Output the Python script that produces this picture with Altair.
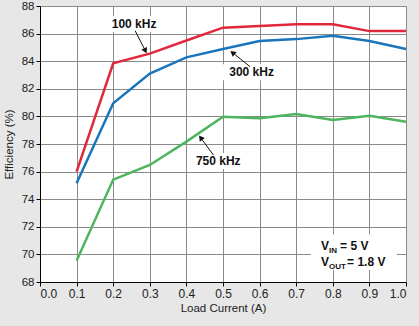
import math
import altair as alt
import pandas as pd

# ---- data ----
load = [0.1, 0.2, 0.3, 0.4, 0.5, 0.6, 0.7, 0.8, 0.9, 1.0]
eff_100 = [76.0, 83.85, 84.55, 85.5, 86.43, 86.55, 86.68, 86.68, 86.18, 86.18]
eff_300 = [75.15, 80.95, 83.1, 84.28, 84.88, 85.46, 85.6, 85.85, 85.46, 84.88]
eff_750 = [69.54, 75.42, 76.48, 78.17, 79.98, 79.86, 80.17, 79.74, 80.05, 79.62]
series_names = ["100 kHz", "300 kHz", "750 kHz"]
series_colors = ["#e0283c", "#1b75bb", "#4db55e"]

x_ticks = [0.0, 0.1, 0.2, 0.3, 0.4, 0.5, 0.6, 0.7, 0.8, 0.9, 1.0]
y_ticks = [68, 70, 72, 74, 76, 78, 80, 82, 84, 86, 88]

# annotation labels (text centre) and arrows (start -> tip)
label_x = [0.257, 0.578, 0.487]
label_y = [86.7, 83.2, 76.77]
arrow_x1 = [0.260, 0.574, 0.474]
arrow_y1 = [86.2, 83.6, 77.2]
arrow_x2 = [0.288, 0.526, 0.439]
arrow_y2 = [84.75, 84.62, 78.45]

# condition note
note_x = 0.768
note_y = [70.3, 69.15]
note_main = ["V", "V"]
note_sub = ["IN", "OUT"]
note_rest = ["= 5 V", "= 1.8 V"]

W, H = 366, 276
X0, X1 = 0.0, 1.0
Y0, Y1 = 68, 88
pxx = W / (X1 - X0)
pxy = H / (Y1 - Y0)

rows = []
for name, vals in zip(series_names, [eff_100, eff_300, eff_750]):
    for l, v in zip(load, vals):
        rows.append({"load": l, "eff": v, "series": name})
df = pd.DataFrame(rows)

xscale = alt.Scale(domain=[X0, X1], nice=False, zero=False)
yscale = alt.Scale(domain=[Y0, Y1], nice=False, zero=False)

FONT = "Liberation Sans"

xaxis = alt.Axis(values=x_ticks, format=".1f", title="Load Current (A)", labelOverlap=False,
                 grid=True, gridColor="#8a8a8a", gridWidth=1, gridOpacity=1,
                 domainColor="#000000", tickColor="#000000", tickSize=4,
                 labelFont=FONT, labelFontSize=12, labelColor="#222222",
                 labelPadding=2, titleFont=FONT, titleFontSize=11.5,
                 titleFontWeight="normal", titleColor="#222222", titlePadding=3)
yaxis = alt.Axis(values=y_ticks, format="d", title="Efficiency (%)", labelOverlap=False,
                 grid=True, gridColor="#8a8a8a", gridWidth=1, gridOpacity=1,
                 domainColor="#000000", tickColor="#000000", tickSize=4,
                 labelFont=FONT, labelFontSize=11.5, labelColor="#222222",
                 labelPadding=2, titleFont=FONT, titleFontSize=11.5,
                 titleFontWeight="normal", titleColor="#222222", titlePadding=7)


def X(field):
    return alt.X(field, scale=xscale, axis=xaxis)


def Y(field):
    return alt.Y(field, scale=yscale, axis=yaxis)


lines = alt.Chart(df).mark_line(strokeWidth=2.5).encode(
    x=X("load:Q"),
    y=Y("eff:Q"),
    color=alt.Color("series:N", scale=alt.Scale(domain=series_names, range=series_colors),
                    legend=None),
)

# annotation table
ann = pd.DataFrame({
    "text": series_names,
    "lx": label_x, "ly": label_y,
    "x1": arrow_x1, "y1": arrow_y1, "x2": arrow_x2, "y2": arrow_y2,
})
box_dx = 30 / pxx
box_dy = 8 / pxy
ann["bx1"] = ann["lx"] - box_dx
ann["bx2"] = ann["lx"] + box_dx
ann["by1"] = ann["ly"] - box_dy
ann["by2"] = ann["ly"] + box_dy
ann["angle"] = [
    (math.degrees(math.atan2((b - a) * pxx, (d - c) * pxy)) % 360)
    for a, b, c, d in zip(ann["x1"], ann["x2"], ann["y1"], ann["y2"])
]

label_boxes = alt.Chart(ann).mark_rect(color="white").encode(
    x=X("bx1:Q"), x2="bx2:Q", y=Y("by1:Q"), y2="by2:Q",
)
label_text = alt.Chart(ann).mark_text(font=FONT, fontSize=12, fontWeight="bold",
                                      color="#111111", align="center", baseline="middle").encode(
    x=X("lx:Q"), y=Y("ly:Q"), text="text:N",
)
arrow_lines = alt.Chart(ann).mark_rule(color="#111111", strokeWidth=1).encode(
    x=X("x1:Q"), x2="x2:Q", y=Y("y1:Q"), y2="y2:Q",
)
arrow_heads = alt.Chart(ann).mark_point(shape="triangle-up", filled=True, size=40,
                                        color="#111111", opacity=1).encode(
    x=X("x2:Q"), y=Y("y2:Q"),
    angle=alt.Angle("angle:Q", scale=None),
)

# condition note with subscripts
note = pd.DataFrame({"x": [note_x, note_x], "y": note_y,
                     "main": note_main, "sub": note_sub, "rest": note_rest})
note_box = alt.Chart(pd.DataFrame({"x": [0.74], "x2": [0.975],
                                   "y": [68.87], "y2": [71.45]})).mark_rect(color="white").encode(
    x=X("x:Q"), x2="x2:Q", y=Y("y:Q"), y2="y2:Q",
)
note_main_t = alt.Chart(note).mark_text(font=FONT, fontSize=12, fontWeight="bold",
                                        color="#111111", align="left", baseline="alphabetic").encode(
    x=X("x:Q"), y=Y("y:Q"), text="main:N",
)
note_sub_t = alt.Chart(note).mark_text(font=FONT, fontSize=8, fontWeight="bold", dx=8, dy=3,
                                       color="#111111", align="left", baseline="alphabetic").encode(
    x=X("x:Q"), y=Y("y:Q"), text="sub:N",
)
note_rest_in = alt.Chart(note.iloc[[0]]).mark_text(font=FONT, fontSize=12, fontWeight="bold", dx=19,
                                                   color="#111111", align="left",
                                                   baseline="alphabetic").encode(
    x=X("x:Q"), y=Y("y:Q"), text="rest:N",
)
note_rest_out = alt.Chart(note.iloc[[1]]).mark_text(font=FONT, fontSize=12, fontWeight="bold", dx=26,
                                                    color="#111111", align="left",
                                                    baseline="alphabetic").encode(
    x=X("x:Q"), y=Y("y:Q"), text="rest:N",
)

chart = alt.layer(
    label_boxes, note_box, lines, arrow_lines, arrow_heads, label_text,
    note_main_t, note_sub_t, note_rest_in, note_rest_out,
).properties(
    width=W, height=H,
    autosize=alt.AutoSizeParams(type="none"),
    padding={"left": 40, "top": 6, "right": 13, "bottom": 44},
    background="#e7e7e7",
).configure_view(fill="white", stroke=None)

chart.save("out.html", embed_options={"renderer": "svg", "actions": False})
